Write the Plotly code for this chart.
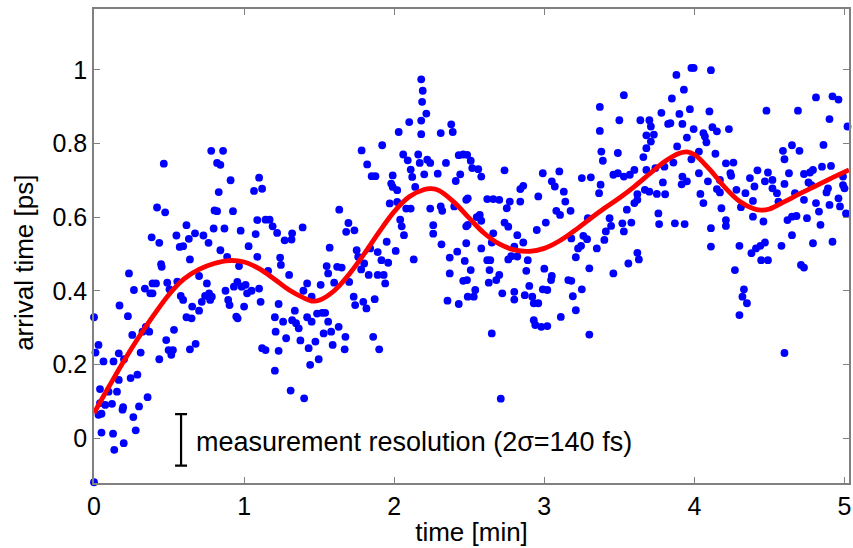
import plotly.graph_objects as go

pts = [
(0,0.328),(0,-0.12),(0.03,0.253),(0.01,0.232),(0.063,0.208),(0.13,0.208),(0.165,0.23),(0.17,0.36),(0.2,0.214),
(0.04,0.133),(0.097,0.126),(0.153,0.126),(0.04,0.095),(0.075,0.09),(0.12,0.093),(0.05,0.066),(0.05,0.015),
(0.127,0.012),(0.135,-0.032),(0.198,-0.014),(0.194,0.084),(0.19,0.077),(0.165,0.158),(0.03,0.063),
(0.226,0.331),(0.233,0.447),(0.255,0.28),(0.244,0.163),(0.289,0.172),(0.3,0.086),(0.262,0.057),(0.278,0.021),
(0.266,0.402),(0.311,0.232),(0.323,0.289),(0.345,0.302),(0.368,0.289),(0.357,0.111),(0.339,0.406),(0.375,0.393),
(0.39,0.42),(0.39,0.393),(0.413,0.42),(0.384,0.545),(0.435,0.53),(0.42,0.626),(0.474,0.613),(0.465,0.745),
(0.447,0.472),(0.451,0.465),(0.435,0.214),(0.481,0.266),(0.497,0.239),(0.515,0.226),(0.488,0.422),(0.503,0.404),
(0.533,0.294),(0.526,0.239),(0.549,0.55),(0.555,0.425),
(0.571,0.519),(0.594,0.521),(0.616,0.578),(0.578,0.386),(0.594,0.375),(0.616,0.328),(0.639,0.485),(0.632,0.541),
(0.654,0.357),(0.65,0.325),(0.673,0.556),(0.7,0.44),(0.7,0.346),(0.639,0.241),(0.677,0.256),(0.718,0.37),
(0.729,0.55),(0.752,0.42),(0.763,0.53),(0.767,0.393),(0.74,0.386),(0.781,0.78),(0.86,0.78),(0.82,0.747),
(0.842,0.742),(0.831,0.668),(0.803,0.618),(0.82,0.616),(0.797,0.569),(0.869,0.569),(0.842,0.51),(0.774,0.375),
(0.785,0.384),(0.876,0.4),(0.887,0.492),(0.894,0.375),(0.903,0.361),(0.91,0.7),(0.926,0.616),(0.932,0.411),
(0.948,0.33),(0.957,0.325),(0.966,0.467),(0.977,0.563),(0.984,0.411),(0.955,0.424),(1.0,0.357),(1.01,0.416),
(1.02,0.393),(1.03,0.521),
(1.05,0.4),(1.066,0.671),(1.077,0.554),(1.088,0.592),(1.088,0.492),(1.1,0.707),(1.12,0.677),(1.1,0.406),
(1.11,0.37),(1.12,0.244),(1.143,0.239),(1.16,0.454),(1.143,0.593),(1.17,0.593),(1.19,0.575),(1.205,0.183),
(1.205,0.328),(1.21,0.289),(1.22,0.557),(1.23,0.237),(1.24,0.49),(1.245,0.47),(1.23,0.364),(1.26,0.316),
(1.27,0.537),(1.28,0.271),(1.3,0.443),(1.316,0.539),(1.32,0.556),(1.31,0.129),(1.32,0.32),(1.338,0.346),
(1.346,0.312),(1.364,0.298),(1.375,0.265),(1.39,0.572),(1.395,0.4),(1.4,0.108),(1.42,0.42),(1.42,0.328),
(1.43,0.244),(1.44,0.199),(1.45,0.384),(1.45,0.316),(1.475,0.262),(1.486,0.338),(1.497,0.214),(1.51,0.416),
(1.52,0.34),(1.53,0.284),(1.54,0.34),
(1.55,0.467),(1.56,0.447),(1.57,0.517),(1.56,0.316),(1.58,0.289),(1.59,0.253),(1.6,0.422),(1.62,0.465),
(1.634,0.62),(1.63,0.302),(1.65,0.463),(1.67,0.241),(1.675,0.275),(1.68,0.56),(1.695,0.584),(1.7,0.424),
(1.73,0.384),(1.735,0.564),(1.74,0.361),(1.75,0.51),(1.76,0.492),(1.783,0.781),(1.78,0.458),(1.794,0.37),
(1.8,0.474),(1.815,0.352),(1.82,0.743),(1.83,0.443),(1.84,0.515),(1.85,0.711),(1.86,0.275),(1.87,0.377),
(1.875,0.711),(1.89,0.443),(1.89,0.505),(1.9,0.241),(1.915,0.483),(1.92,0.795),(1.93,0.443),(1.94,0.42),
(1.95,0.533),(1.96,0.476),(1.97,0.637),(1.98,0.691),(1.99,0.713),(1.99,0.682),(2.01,0.508),(2.03,0.831),
(2.02,0.673),(2.02,0.641),
(2.04,0.593),(2.05,0.575),(2.06,0.77),(2.065,0.551),(2.08,0.623),(2.09,0.754),(2.1,0.858),(2.11,0.729),
(2.11,0.623),(2.12,0.709),(2.13,0.485),(2.14,0.682),(2.16,0.77),(2.17,0.747),(2.18,0.825),(2.18,0.862),
(2.2,0.716),(2.22,0.756),(2.24,0.747),(2.24,0.623),(2.26,0.578),(2.26,0.555),(2.29,0.718),(2.31,0.828),
(2.31,0.629),(2.315,0.526),(2.32,0.617),(2.345,0.747),(2.355,0.373),(2.37,0.49),(2.37,0.447),(2.38,0.852),
(2.39,0.831),(2.4,0.629),(2.41,0.698),(2.42,0.506),(2.43,0.364),(2.43,0.768),(2.44,0.716),(2.46,0.77),
(2.46,0.427),(2.47,0.481),(2.48,0.575),(2.48,0.647),(2.49,0.384),
(2.18,0.974),(2.19,0.943),(2.186,0.913),(2.214,0.881),
(4.01,1.166),(3.98,1.005),(3.995,1.005),(4.11,0.999),(3.88,0.986),(3.93,0.946),(3.85,0.922),(3.53,0.931),
(4.81,0.925),(4.92,0.928),(4.96,0.919),(3.37,0.899),(4.48,0.889),(4.69,0.889),(3.97,0.893),(4.1,0.887),
(3.9,0.88),(3.78,0.883),(4.9,0.866),(3.5,0.863),(3.64,0.863),(3.7,0.863),(3.71,0.846),(3.825,0.853),
(3.84,0.855),(3.92,0.853),(5.02,0.846),(3.37,0.834),(3.995,0.839),(4.12,0.844),(4.15,0.833),(4.23,0.839),
(4.06,0.828),(4.07,0.819),(4.08,0.803),(3.95,0.816),(3.68,0.822),(3.73,0.824),(3.71,0.805),(3.68,0.787),
(3.885,0.792),(4.59,0.78),(4.65,0.795),(4.7,0.78),(4.86,0.796),(3.38,0.778),(3.49,0.774),(4.03,0.778),
(4.14,0.772),(4.6,0.757),(3.39,0.753),(3.66,0.763),(3.86,0.748),(3.98,0.757),(4.21,0.746),(4.26,0.748),
(2.486,0.769),(2.51,0.753),
(2.52,0.733),(2.56,0.73),(2.58,0.71),(2.735,0.727),(2.99,0.719),(3.1,0.724),(3.25,0.706),(3.31,0.708),
(3.46,0.715),(3.49,0.719),(3.57,0.715),(3.6,0.728),(3.68,0.728),(3.74,0.733),(3.8,0.737),(3.92,0.71),
(3.95,0.697),(4.03,0.719),(4.09,0.697),(4.17,0.701),(4.24,0.719),(4.245,0.712),(4.37,0.706),(4.42,0.727),
(4.49,0.721),(4.52,0.701),(4.63,0.719),(4.73,0.717),(4.77,0.721),(4.79,0.728),(4.85,0.737),(4.91,0.739),
(4.99,0.71),(3.05,0.697),(3.07,0.683),(3.13,0.669),(2.84,0.676),(2.86,0.685),(3.375,0.688),(3.365,0.665),
(3.53,0.71),(3.67,0.674),(3.7,0.669),(3.75,0.663),(3.805,0.662),(3.79,0.694),(3.62,0.662),(3.62,0.647),
(3.6,0.638),(3.55,0.62),(3.915,0.689),(4.04,0.663),(4.06,0.638),(4.15,0.676),(4.17,0.667),(4.18,0.624),
(4.28,0.674),(4.34,0.665),(4.31,0.627),(4.39,0.644),(4.4,0.683),(4.47,0.697),(4.52,0.678),(4.55,0.665),
(4.56,0.642),(4.6,0.69),(4.67,0.665),(4.73,0.647),(4.76,0.694),(4.78,0.687),(4.81,0.638),(4.83,0.615),
(4.88,0.667),(4.89,0.678),(4.9,0.633),(4.96,0.651),(4.99,0.687),(5.0,0.678),(5.01,0.61),(4.97,0.629),
(2.62,0.649),(2.66,0.649),(2.7,0.647),(2.75,0.624),(2.77,0.642),(2.84,0.642),(2.96,0.656),(3.01,0.585),
(2.49,0.651),(2.57,0.606),(2.55,0.6),(2.49,0.579),(2.58,0.59),(2.735,0.585),(2.76,0.574),(3.08,0.617),
(3.105,0.606),(3.14,0.642),(3.175,0.617),(3.29,0.597),(3.435,0.597),(3.445,0.576),(3.52,0.583),(3.58,0.585),
(3.76,0.61),(3.765,0.581),(3.87,0.583),(3.935,0.581),(4.11,0.57),(4.21,0.592),(4.21,0.576),(4.39,0.601),
(4.46,0.588),(4.62,0.592),(4.65,0.601),(4.68,0.603),(4.75,0.597),(4.84,0.579),
(2.48,0.529),(2.58,0.515),(2.66,0.556),(2.65,0.531),(2.82,0.551),(2.86,0.531),(2.8,0.52),(2.76,0.485),
(2.82,0.493),(2.78,0.494),(2.89,0.483),(2.95,0.565),(3.0,0.46),(3.05,0.44),(3.045,0.429),(2.99,0.404),
(3.02,0.402),(2.88,0.454),(2.9,0.413),(2.87,0.388),(2.92,0.384),(2.93,0.366),(2.96,0.366),(2.8,0.397),
(2.8,0.376),(2.72,0.393),(2.68,0.429),(2.7,0.443),(2.63,0.422),(2.64,0.483),(2.62,0.483),(2.635,0.456),
(2.51,0.456),(2.485,0.429),(2.54,0.402),(2.53,0.384),(2.65,0.284),(2.93,0.32),(2.94,0.307),(2.98,0.302),
(3.02,0.304),(3.11,0.329),(3.16,0.429),(3.18,0.427),(3.19,0.385),(3.21,0.347),(3.25,0.404),(3.3,0.461),
(3.3,0.281),(3.21,0.491),(3.225,0.515),(3.245,0.522),(3.26,0.549),(3.285,0.54),(3.18,0.542),(3.35,0.515),
(3.4,0.538),(3.41,0.561),(3.46,0.447),(3.56,0.474),(3.62,0.503),(3.63,0.485),(3.53,0.561),(4.11,0.52),
(4.3,0.522),(4.38,0.502),(4.41,0.515),(4.44,0.522),(4.47,0.531),(4.445,0.483),(4.49,0.483),(4.58,0.522),
(4.65,0.551),(4.79,0.529),(4.92,0.533),(4.71,0.47),(4.73,0.463),(4.27,0.456),(4.33,0.404),(4.32,0.384),
(4.35,0.366),(4.3,0.334),(4.6,0.231),(2.71,0.107),
]
time_min = [p[0] for p in pts]
arrival_ps = [p[1] for p in pts]

# smooth fit curve
fit_t = [0, 0.1, 0.2, 0.3, 0.4, 0.5, 0.6, 0.7, 0.8, 0.9, 1.0, 1.1, 1.2, 1.3, 1.4, 1.45, 1.5, 1.6, 1.7,
         1.8, 1.9, 2.0, 2.1, 2.2, 2.25, 2.3, 2.4, 2.5, 2.6, 2.7, 2.8, 2.9, 3.0, 3.1, 3.2, 3.3, 3.4, 3.5,
         3.6, 3.7, 3.8, 3.9, 3.95, 4.0, 4.1, 4.2, 4.3, 4.4, 4.45, 4.5, 4.6, 4.7, 4.8, 4.9, 5.03]
fit_ps = [0.068, 0.14, 0.21, 0.275, 0.335, 0.39, 0.432, 0.458, 0.474, 0.482, 0.478, 0.46, 0.432, 0.402, 0.38,
          0.372, 0.374, 0.4, 0.445, 0.5, 0.56, 0.615, 0.655, 0.675, 0.677, 0.672, 0.64, 0.597, 0.556, 0.527,
          0.511, 0.507, 0.515, 0.535, 0.563, 0.594, 0.624, 0.652, 0.683, 0.717, 0.75, 0.773, 0.777, 0.77,
          0.73, 0.682, 0.643, 0.622, 0.619, 0.622, 0.642, 0.663, 0.683, 0.703, 0.728]

# measurement resolution bar (2 sigma = 140 fs = 0.14 ps)
res_t = [0.58]
res_center = [-0.005]
res_half = [0.07]
res_label = "measurement resolution (2σ=140 fs)"

x_ticks = [0, 1, 2, 3, 4, 5]
y_ticks = [0, 0.2, 0.4, 0.6, 0.8, 1]
y_tick_text = ["0", "0.2", "0.4", "0.6", "0.8", "1"]

FONT = "Arial, Liberation Sans, Helvetica, sans-serif"

fig = go.Figure()
fig.add_trace(go.Scatter(x=time_min, y=arrival_ps, mode="markers", cliponaxis=False,
                         marker=dict(color="#0000ff", size=7.8, line=dict(width=0)),
                         showlegend=False, hoverinfo="skip"))
fig.add_trace(go.Scatter(x=fit_t, y=fit_ps, mode="lines",
                         line=dict(color="#ff0000", width=4.8, shape="spline", smoothing=1.0),
                         showlegend=False, hoverinfo="skip"))
fig.add_trace(go.Scatter(x=res_t, y=res_center, mode="markers",
                         marker=dict(color="rgba(0,0,0,0)", size=1),
                         error_y=dict(type="data", array=res_half, color="#000000", thickness=2.2, width=6),
                         showlegend=False, hoverinfo="skip"))
fig.add_annotation(x=0.665, y=-0.012, xref="x", yref="y", text=res_label, showarrow=False,
                   xanchor="left", yanchor="middle", font=dict(family=FONT, size=27, color="#000000"))
fig.add_annotation(x=-0.093, y=0.464, xref="paper", yref="paper", text="arrival time [ps]", showarrow=False,
                   textangle=-90, xanchor="center", yanchor="middle",
                   font=dict(family=FONT, size=26, color="#000000"))

axis_common = dict(showgrid=False, zeroline=False, showline=True, linecolor="#808080", linewidth=1.5,
                   mirror="ticks", ticks="inside", ticklen=6, tickcolor="#808080", tickwidth=1.2,
                   tickfont=dict(family=FONT, size=25, color="#000000"))
fig.update_xaxes(range=[0, 5.03], tickvals=x_ticks, ticktext=[str(v) for v in x_ticks],
                 title=dict(text="time [min]", font=dict(family=FONT, size=26, color="#000000"), standoff=4),
                 **axis_common)
fig.update_yaxes(range=[-0.122, 1.165], tickvals=y_ticks, ticktext=y_tick_text, **axis_common)
fig.update_layout(width=853, height=548, margin=dict(l=94, r=2, t=9, b=65),
                  paper_bgcolor="white", plot_bgcolor="white")
fig.write_html("out.html")
